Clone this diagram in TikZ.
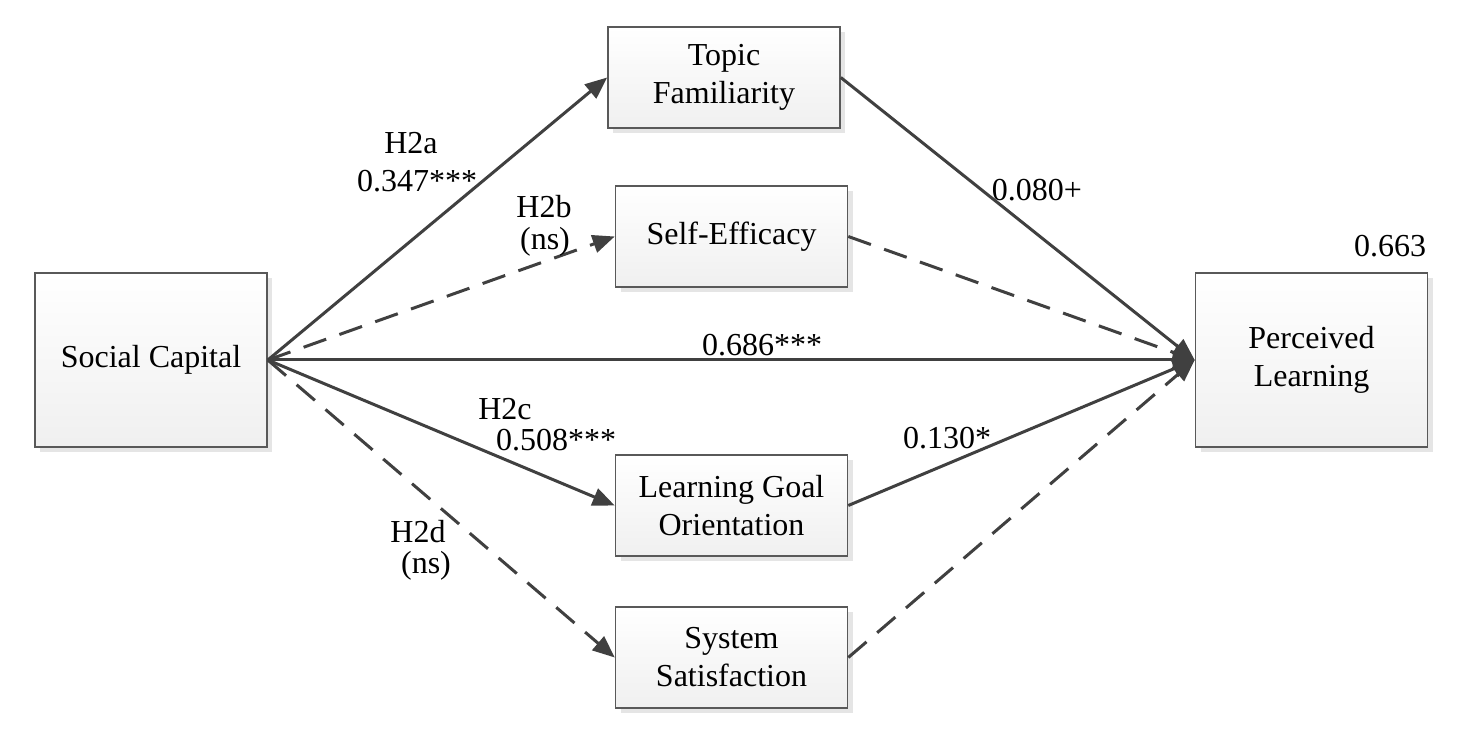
\documentclass[tikz,border=0pt]{standalone}
\usepackage{fontspec}
\setmainfont{Liberation Serif}
\usetikzlibrary{arrows.meta,shadows}
\definecolor{lc}{HTML}{404040}
\begin{document}
\begin{tikzpicture}[x=0.5pt,y=-0.5pt,
  box/.style={draw=black!65, line width=0.8pt, top color=white, bottom color=black!6,
    drop shadow={shadow xshift=2.5pt, shadow yshift=-2.5pt, fill=black!10, opacity=1},
    minimum width=116pt, minimum height=50.5pt, align=center, inner sep=0pt,
    font=\fontsize{16pt}{19pt}\selectfont},
  bigbox/.style={box, minimum height=87pt},
  arr/.style={draw=lc, line width=1.5pt, -{Triangle[length=11pt,width=9pt]}},
  dsh/.style={arr, dash pattern=on 12pt off 7pt},
  lab/.style={font=\fontsize{16pt}{19pt}\selectfont, inner sep=0pt}
]
\useasboundingbox (0,0) rectangle (1473,742);
\node[bigbox] (SC) at (151,360) {Social Capital};
\node[bigbox] (PL) at (1311.5,360) {Perceived\\Learning};
\node[box] (TF) at (724,77.5) {Topic\\Familiarity};
\node[box] (SE) at (731.5,236.5) {Self-Efficacy};
\node[box] (LGO) at (731.5,505.5) {Learning Goal\\Orientation};
\node[box] (SS) at (731.5,657.5) {System\\Satisfaction};

\draw[arr] (SC.east) -- (TF.west);
\draw[dsh] (SC.east) -- (SE.west);
\draw[arr] (SC.east) -- (PL.west);
\draw[arr] (SC.east) -- (LGO.west);
\draw[dsh] (SC.east) -- (SS.west);
\draw[arr] (TF.east) -- (PL.west);
\draw[dsh] (SE.east) -- (PL.west);
\draw[arr] (LGO.east) -- (PL.west);
\draw[dsh] (SS.east) -- (PL.west);

\node[lab] (l1) at (411,143) {H2a};
\node[lab] (l2) at (417,181) {0.347***};
\node[lab] (l3) at (544,207) {H2b};
\node[lab] (l4) at (545,242) {(ns)};
\node[lab] (l5) at (1037,190) {0.080+};
\node[lab] (l6) at (1390,246) {0.663};
\node[lab] (l7) at (762,345) {0.686***};
\node[lab] (l8) at (505,409) {H2c};
\node[lab] (l9) at (556,440) {0.508***};
\node[lab] (l10) at (947,438) {0.130*};
\node[lab] (l11) at (418,532) {H2d};
\node[lab] (l12) at (426,566) {(ns)};
\end{tikzpicture}
\end{document}
